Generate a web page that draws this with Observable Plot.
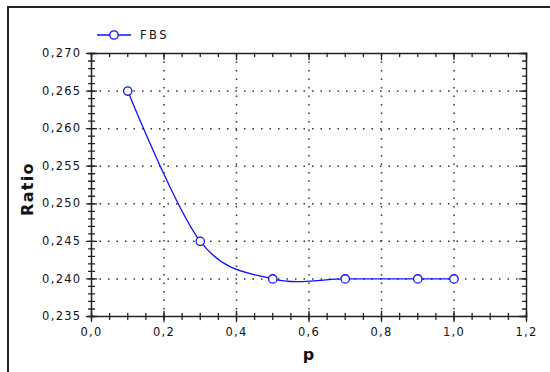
<!DOCTYPE html>
<html><head><meta charset="utf-8">
<script src="https://cdn.jsdelivr.net/npm/d3@7"></script>
<script src="https://cdn.jsdelivr.net/npm/@observablehq/plot@0.6"></script>
<style>
html,body{margin:0;padding:0;background:#fff;}
#wrap{position:relative;width:550px;height:372px;overflow:hidden;}
#frameL{position:absolute;left:7px;top:6px;width:2px;height:366px;background:#222;}
#frameT{position:absolute;left:7px;top:6px;width:543px;height:2px;background:#222;}
#legend{position:absolute;left:97px;top:28px;display:flex;align-items:center;font:11.5px "DejaVu Sans";letter-spacing:2.5px;color:#111;}
#legend svg{margin-right:9px;display:block;}
</style></head><body>
<div id="wrap"><div id="chart"></div><div id="frameL"></div><div id="frameT"></div>
<div id="legend"><svg width="34" height="14"><line x1="0" x2="34" y1="7" y2="7" stroke="#1010ff" stroke-width="1.3"/><circle cx="17" cy="7" r="4.2" fill="white" stroke="#1010ff" stroke-width="1.3"/></svg><span>FBS</span></div>
</div>
<script>
const pValues = [0.1, 0.3, 0.5, 0.7, 0.9, 1.0];
const ratioValues = [0.265, 0.245, 0.240, 0.240, 0.240, 0.240];
const xMajor = [0.0, 0.2, 0.4, 0.6, 0.8, 1.0, 1.2];
const yMajor = [0.235, 0.240, 0.245, 0.250, 0.255, 0.260, 0.265, 0.270];
const xGrid = [0.2, 0.4, 0.6, 0.8, 1.0];
const yGrid = [0.240, 0.245, 0.250, 0.255, 0.260, 0.265];
const xMinor = d3.range(0, 1.2001, 0.05);
const yMinor = d3.range(0.235, 0.27001, 0.001);

const points = pValues.map((p, i) => ({p, ratio: ratioValues[i]}));
const tickShape = {draw(ctx, l) { ctx.moveTo(0, 0); ctx.lineTo(0, -l); }};
const ink = "#111";
const tk = (data, o) => Plot.vector(data, {shape: tickShape, stroke: "#222", strokeWidth: 1.3, ...o});
const fx = d => d.toFixed(1).replace(".", ",");
const fy = d => d.toFixed(3).replace(".", ",");

const chart = Plot.plot({
  width: 550, height: 372,
  marginLeft: 91, marginRight: 24, marginTop: 53, marginBottom: 56,
  style: {fontFamily: "DejaVu Sans", fontSize: "11.5px", letterSpacing: "1.3px", color: ink, background: "transparent"},
  x: {domain: [0, 1.2]},
  y: {domain: [0.235, 0.270]},
  marks: [
    Plot.gridX(xGrid, {stroke: "#333", strokeOpacity: 1, strokeWidth: 1.5, strokeDasharray: "1.5,7"}),
    Plot.gridY(yGrid, {stroke: "#333", strokeOpacity: 1, strokeWidth: 1.5, strokeDasharray: "1.5,7"}),
    Plot.line(points, {x: "p", y: "ratio", curve: "cardinal", stroke: "#1010ff", strokeWidth: 1.3}),
    Plot.dot(points, {x: "p", y: "ratio", r: 4.2, fill: "white", stroke: "#1010ff", strokeWidth: 1.3}),
    Plot.frame({stroke: "#222", strokeWidth: 1.5}),
    tk(xMinor, {x: d => d, frameAnchor: "bottom", rotate: 0, anchor: "middle", length: 6}),
    tk(xMajor, {x: d => d, frameAnchor: "bottom", rotate: 0, anchor: "middle", length: 10}),
    tk(xMinor, {x: d => d, frameAnchor: "top", rotate: 180, anchor: "start", length: 3}),
    tk(xMajor, {x: d => d, frameAnchor: "top", rotate: 180, anchor: "start", length: 6}),
    tk(yMinor, {y: d => d, frameAnchor: "left", rotate: 90, anchor: "middle", length: 6}),
    tk(yMajor, {y: d => d, frameAnchor: "left", rotate: 90, anchor: "middle", length: 10}),
    tk(yMinor, {y: d => d, frameAnchor: "right", rotate: -90, anchor: "start", length: 4}),
    tk(yMajor, {y: d => d, frameAnchor: "right", rotate: -90, anchor: "start", length: 7}),
    Plot.axisX({ticks: xMajor, tickSize: 0, tickPadding: 11, tickFormat: fx, label: null}),
    Plot.axisY({ticks: yMajor, tickSize: 0, tickPadding: 10, tickFormat: fy, label: null}),
    Plot.text(["Ratio"], {frameAnchor: "left", dx: -64, dy: 4, rotate: -90, textAnchor: "middle", lineAnchor: "middle", fontWeight: "bold", fontSize: 16, fill: ink}),
    Plot.text(["p"], {frameAnchor: "bottom", dy: 38, textAnchor: "middle", lineAnchor: "middle", fontWeight: "bold", fontSize: 16, fill: ink})
  ]
});
document.getElementById("chart").appendChild(chart);
</script>
</body></html>
